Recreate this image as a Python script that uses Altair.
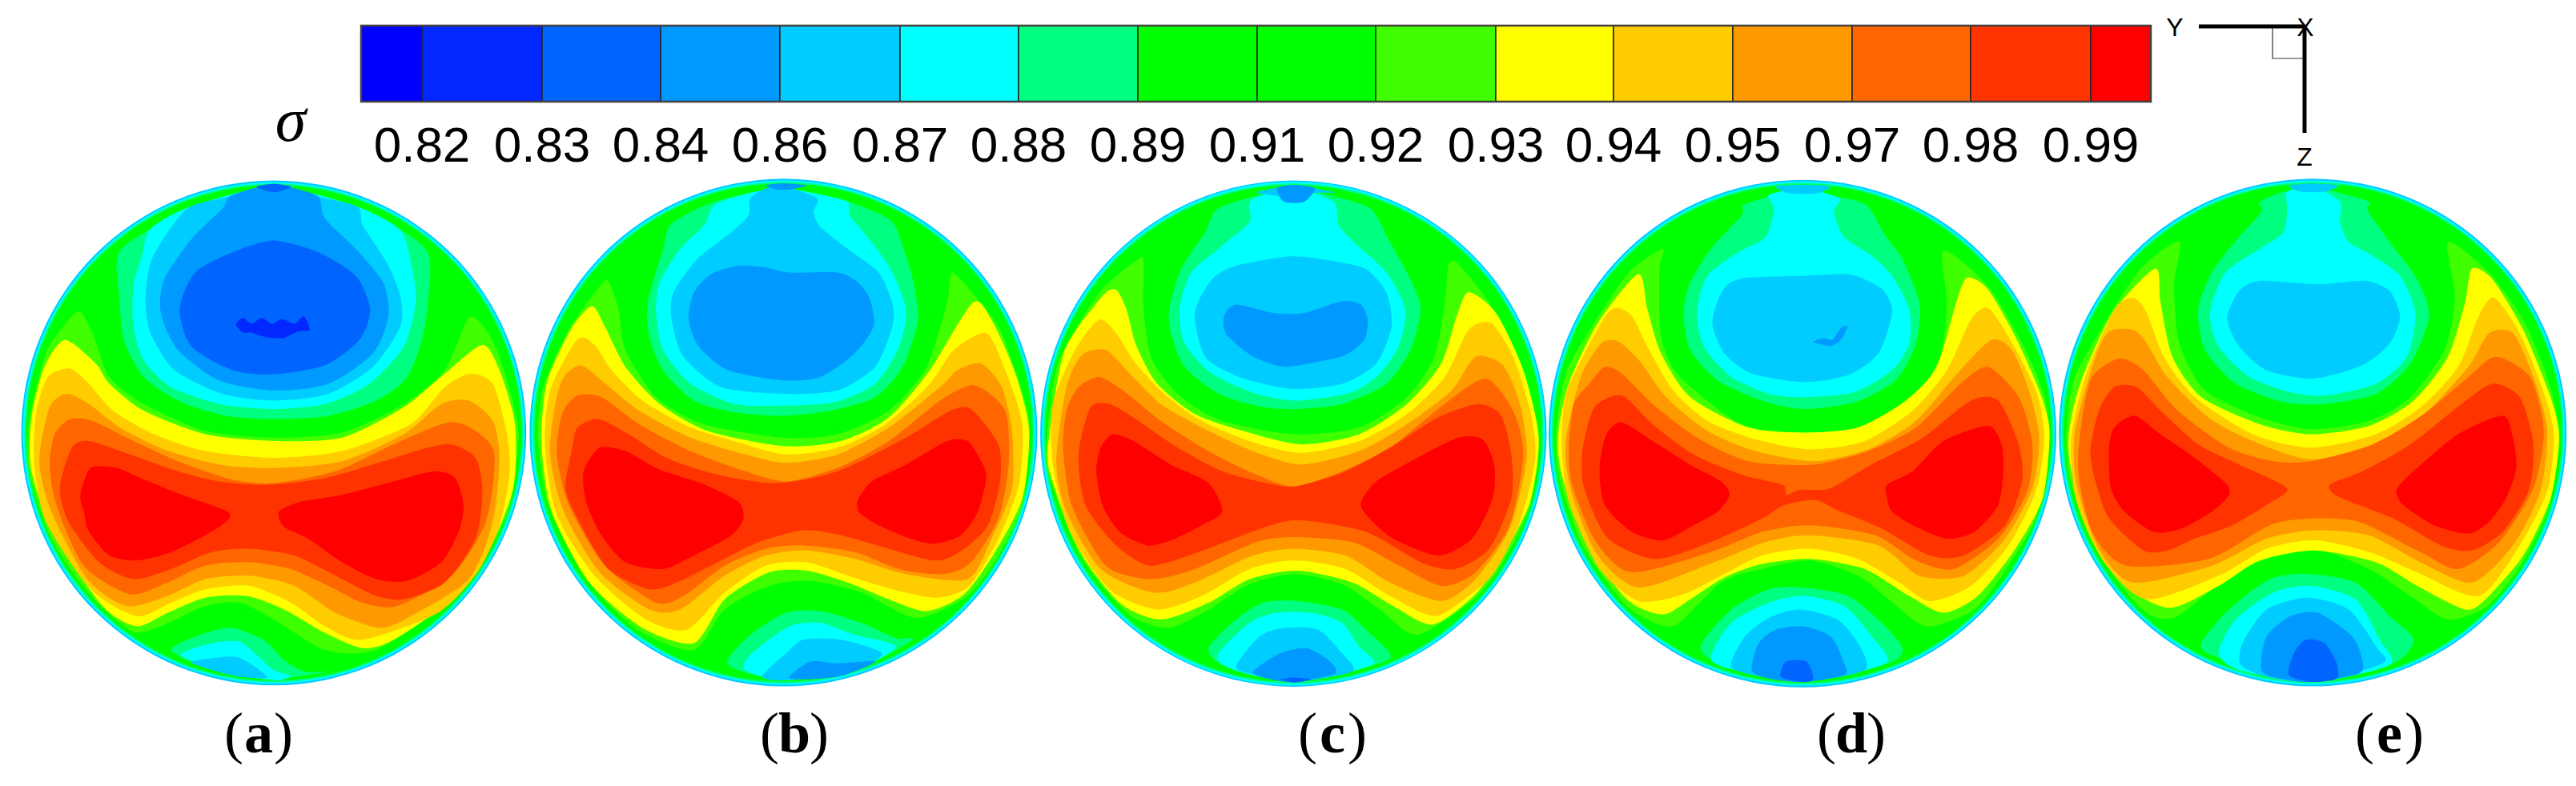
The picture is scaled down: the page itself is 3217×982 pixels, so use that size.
import altair as alt
import pandas as pd

COLORS = ["#0000ff","#0028ff","#0064ff","#0099ff","#00ccff","#00ffff","#00ff80","#00ff00",
          "#00ff00","#40ff00","#ffff00","#ffcc00","#ff9900","#ff6600","#ff3300","#ff0000"]
EDGES = [451,527,677,825,974,1124,1272,1421,1570,1718,1868,2015,2164,2313,2461,2611,2686]
TICKS = ["0.82","0.83","0.84","0.86","0.87","0.88","0.89","0.91","0.92","0.93","0.94","0.95","0.97","0.98","0.99"]
CAPTIONS = ["a","b","c","d","e"]
CAPTION_X = [323,992,1664,2312,2984]
OFFSET_X = [0,640,1270,1910,2540]
CENTERS = [(800,786,738),(792,785,742),(808,788,740),(798,788,742),(815,785,742)]
RIMS = [(0,4),(5,5),(9,6),(14,7)]

A = [
(6,[(345,255),(350,400),(362,510),(420,620),(530,695),(660,735),(800,745),(960,735),(1100,690),(1190,620),(1240,480),(1255,265),(1175,185),(1040,115),(800,55),(560,115),(440,180)]),
(5,[(440,180),(415,260),(390,350),(390,470),(420,570),(500,650),(640,700),(800,715),(950,700),(1080,640),(1180,530),(1215,400),(1205,300),(1170,185),(1045,115),(800,55),(555,115)]),
(4,[(555,115),(490,190),(440,280),(425,390),(440,490),(510,600),(650,670),(800,690),(960,670),(1090,590),(1170,470),(1170,380),(1130,280),(1060,170),(1045,115),(930,85),(800,55),(670,85)]),
(3,[(670,85),(650,120),(560,210),(480,330),(470,430),(520,540),(640,630),(800,660),(960,640),(1090,550),(1135,440),(1120,340),(1040,240),(950,150),(930,85),(860,60),(800,50),(740,60)]),
(2,[(800,215),(680,250),(570,310),(525,420),(560,530),(680,600),(800,612),(950,585),(1050,510),(1082,420),(1040,320),(930,250)]),
(2,[(750,55),(800,72),(850,55),(800,47)]),
(1,[(690,465),(710,445),(735,462),(765,445),(795,462),(825,448),(860,462),(888,440),(905,480),(870,485),(825,505),(770,500),(735,488),(710,488)]),
(6,[(500,1430),(600,1380),(680,1365),(770,1400),(830,1460),(890,1495),(960,1495),(800,1515),(620,1490)]),
(5,[(530,1445),(620,1410),(700,1405),(750,1445),(800,1490),(850,1508),(800,1520),(650,1495)]),
(4,[(560,1465),(680,1450),(730,1470),(780,1512),(700,1510),(620,1490)]),
(9,[(230,425),(270,490),(320,620),(420,700),(600,780),(800,800),(1000,785),(1180,700),(1300,600),(1370,445),(1420,480),(1460,560),(1500,700),(1515,800),(1490,1000),(1415,1160),(1310,1290),(1100,1430),(950,1430),(800,1340),(700,1290),(600,1300),(470,1360),(385,1375),(265,1270),(150,1100),(85,900),(85,750),(130,560),(170,490)]),
(10,[(190,510),(280,580),(320,640),(420,720),(600,790),(800,810),(1000,800),(1180,710),(1300,610),(1410,525),(1460,600),(1505,760),(1500,950),(1430,1130),(1320,1280),(1150,1400),(1060,1425),(950,1380),(830,1310),(720,1270),(600,1275),(490,1320),(400,1360),(300,1300),(160,1090),(92,900),(92,740),(130,590)]),
(11,[(140,620),(205,595),(260,640),(330,720),(450,790),(600,840),(800,860),(1000,840),(1200,760),(1300,650),(1375,610),(1440,640),(1480,780),(1490,900),(1460,1060),(1395,1200),(1280,1320),(1060,1400),(950,1360),(850,1290),(730,1240),(600,1250),(500,1290),(400,1330),(265,1250),(135,1050),(100,880),(105,730)]),
(12,[(145,710),(195,670),(260,700),(350,770),(480,835),(640,880),(800,890),(1000,870),(1180,790),(1290,700),(1370,690),(1440,750),(1460,860),(1440,1050),(1370,1220),(1200,1330),(1110,1365),(980,1320),(860,1240),(730,1210),(600,1220),(490,1270),(370,1300),(255,1220),(150,1020),(115,870)]),
(13,[(160,790),(205,745),(270,750),(370,800),(520,870),(680,925),(800,935),(980,900),(1150,820),(1310,755),(1390,780),(1445,850),(1420,1050),(1320,1210),(1160,1300),(1060,1290),(960,1240),(850,1190),(730,1170),(600,1180),(490,1230),(380,1265),(245,1180),(165,1000),(145,880)]),
(14,[(210,830),(260,810),(380,850),(520,900),(640,930),(780,940),(950,920),(1120,870),(1250,830),(1320,820),(1390,860),(1410,960),(1390,1100),(1300,1230),(1180,1280),(1100,1270),(1000,1220),(860,1150),(730,1130),(620,1140),(500,1190),(390,1220),(290,1170),(200,1050),(175,950)]),
(15,[(265,890),(340,890),(400,915),(520,965),(665,1020),(660,1050),(600,1090),(500,1140),(400,1165),(320,1150),(260,1080),(245,1020),(235,970)]),
(15,[(815,1020),(880,990),(1000,970),(1150,930),(1270,900),(1330,920),(1355,1000),(1340,1080),(1290,1170),(1190,1225),(1100,1220),(1000,1170),(900,1100),(830,1065)]),
]
B = [
(6,[(465,165),(440,240),(395,400),(400,500),(440,600),(530,690),(650,725),(790,735),(930,720),(1060,680),(1140,590),(1185,450),(1170,330),(1140,230),(1105,155),(980,100),(790,60),(590,100)]),
(5,[(590,110),(560,170),(490,240),(430,340),(420,430),(440,540),(520,640),(650,700),(790,705),(940,695),(1060,640),(1130,530),(1150,420),(1110,310),(1050,220),(985,140),(980,100),(880,75),(790,60),(690,75)]),
(4,[(695,90),(690,140),(640,190),(540,270),(470,370),(465,450),(500,560),(610,650),(790,670),(950,660),(1060,590),(1110,470),(1110,400),(1070,310),(980,240),(900,175),(880,130),(890,90),(800,55),(740,60)]),
(3,[(660,290),(580,315),(530,370),(515,450),(545,530),(630,600),(790,630),(900,620),(1000,550),(1055,470),(1045,390),(1010,340),(950,310),(810,310),(740,295)]),
(3,[(740,52),(790,65),(860,52),(790,45)]),
(6,[(630,1475),(690,1390),(800,1320),(900,1315),(1020,1350),(1120,1395),(1170,1400),(1020,1480),(800,1520)]),
(5,[(680,1490),(700,1440),(810,1360),(900,1350),(1000,1385),(1120,1420),(1010,1485),(800,1520)]),
(4,[(730,1510),(800,1440),(850,1400),(960,1400),(1080,1440),(1000,1490),(800,1520)]),
(3,[(810,1515),(870,1465),(950,1470),(1060,1465),(950,1510)]),
(9,[(265,340),(285,345),(310,420),(330,540),(420,680),(560,760),(790,800),(950,790),(1100,720),(1210,590),(1270,400),(1285,310),(1360,390),(1430,490),(1500,700),(1510,800),(1490,1000),(1420,1150),(1330,1270),(1180,1335),(1020,1260),(870,1225),(750,1240),(620,1310),(530,1430),(365,1370),(215,1220),(105,1000),(75,800),(90,650),(170,470)]),
(10,[(232,410),(270,470),(330,590),(430,700),(570,780),(790,825),(960,810),(1100,740),(1220,600),(1345,400),(1400,450),(1470,610),(1510,780),(1490,980),(1410,1140),(1320,1265),(1210,1315),(1100,1280),(980,1230),(860,1195),(750,1200),(620,1280),(530,1410),(380,1365),(225,1230),(115,1020),(85,820),(100,640),(170,480)]),
(11,[(190,508),(240,525),(290,600),(380,690),(520,770),(680,820),(800,850),(950,830),(1090,760),(1220,640),(1290,540),(1385,490),(1440,600),(1490,760),(1480,940),(1420,1100),(1335,1240),(1240,1275),(1110,1250),(980,1210),(860,1170),(740,1180),(620,1260),(510,1370),(390,1340),(240,1210),(130,1030),(95,830),(110,660)]),
(12,[(150,620),(200,585),(260,630),(370,720),(520,800),(680,850),(800,875),(950,850),(1100,770),(1250,650),(1300,600),(1370,580),(1430,650),(1460,780),(1460,950),(1400,1100),(1330,1220),(1150,1205),(1000,1160),(860,1135),(740,1150),(620,1210),(490,1310),(400,1310),(255,1200),(150,1020),(110,850),(125,700)]),
(13,[(145,730),(190,675),(260,680),(370,760),(520,840),(680,900),(800,930),(950,890),(1100,810),(1250,690),(1350,645),(1440,720),(1450,880),(1420,1040),(1340,1170),(1260,1205),(1130,1190),(1000,1140),(850,1120),(740,1130),(620,1180),(500,1270),(420,1290),(270,1180),(165,1000),(130,850)]),
(14,[(190,770),(250,745),(340,790),(450,860),(600,910),(770,935),(950,900),(1150,800),(1280,720),(1340,715),(1420,820),(1425,930),(1390,1060),(1320,1130),(1240,1165),(1100,1130),(960,1090),(850,1075),(720,1110),(600,1170),(480,1230),(400,1250),(280,1190),(190,1040),(155,950),(175,830)]),
(15,[(255,830),(330,840),(430,895),(550,935),(660,990),(675,1040),(640,1090),(530,1150),(440,1190),(330,1170),(260,1090),(215,990),(208,900)]),
(15,[(1010,985),(1050,930),(1150,880),(1270,810),(1330,810),(1370,870),(1385,920),(1360,1020),(1310,1090),(1230,1115),(1150,1095),(1060,1055),(1012,1020)]),
]
C = [
(6,[(585,122),(550,190),(480,300),(445,420),(450,490),(490,590),(590,670),(720,710),(820,715),(950,700),(1080,640),(1150,540),(1180,420),(1150,330),(1090,220),(1035,122),(930,85),(808,60),(690,85)]),
(5,[(685,95),(680,160),(600,230),(510,310),(475,420),(490,520),(570,610),(700,670),(820,690),(980,665),(1060,610),(1115,530),(1135,420),(1080,310),(990,225),(940,170),(925,100),(808,60)]),
(4,[(700,72),(770,85),(785,100),(835,100),(860,75),(930,72),(808,52)]),
(3,[(760,60),(780,100),(840,100),(870,60),(808,50)]),
(4,[(800,262),(640,290),(570,330),(520,430),(550,560),(650,620),(800,655),(950,640),(1050,580),(1095,470),(1080,370),(1020,300),(920,275)]),
(3,[(640,405),(750,430),(840,430),(950,395),(1005,405),(1025,450),(1015,510),(960,555),(880,575),(780,590),(700,565),(650,530),(610,490),(605,440)]),
(6,[(560,1425),(640,1340),(720,1290),(820,1285),(950,1310),(1020,1370),(1090,1440),(1060,1470),(808,1525),(610,1480)]),
(5,[(585,1450),(680,1350),(760,1320),(860,1320),(950,1350),(1000,1420),(1045,1470),(950,1500),(808,1525),(650,1495)]),
(4,[(640,1480),(710,1390),(780,1365),(880,1370),(950,1440),(980,1495),(808,1525),(700,1505)]),
(3,[(690,1495),(770,1440),(845,1425),(910,1460),(930,1500),(808,1525),(730,1515)]),
(2,[(770,1518),(810,1512),(860,1518),(810,1527)]),
(9,[(355,270),(370,280),(370,420),(395,570),(480,680),(600,750),(810,790),(1000,770),(1140,680),(1220,560),(1250,400),(1262,285),(1290,285),(1380,400),(1460,560),(1520,780),(1500,1000),(1420,1170),(1335,1280),(1170,1385),(1060,1310),(950,1235),(810,1205),(680,1235),(560,1310),(440,1365),(320,1320),(185,1150),(90,900),(88,800),(120,580),(240,370)]),
(10,[(290,362),(320,420),(350,530),(410,640),(520,730),(660,780),(830,820),(1000,790),(1140,700),(1240,580),(1285,440),(1320,368),(1400,430),(1480,600),(1525,800),(1500,990),(1420,1150),(1340,1265),(1215,1355),(1100,1300),(980,1230),(820,1195),(680,1220),(560,1290),(420,1340),(300,1290),(180,1130),(95,900),(95,790),(140,540),(250,380)]),
(11,[(240,450),(290,490),(340,570),(420,660),(530,745),(680,810),(830,845),(1000,810),(1140,730),(1250,620),(1320,480),(1385,460),(1450,560),(1500,720),(1515,860),(1470,1050),(1395,1200),(1320,1270),(1220,1330),(1090,1270),(960,1190),(810,1165),(680,1190),(540,1270),(410,1310),(270,1250),(155,1080),(105,880),(105,700),(170,540)]),
(12,[(190,555),(260,540),(330,610),(420,700),(540,770),(690,840),(830,880),(1000,840),(1140,760),(1270,660),(1340,560),(1420,585),(1470,700),(1490,860),(1440,1070),(1340,1220),(1240,1285),(1090,1230),(960,1150),(810,1130),(690,1150),(520,1230),(400,1260),(245,1190),(145,1020),(115,870),(145,650)]),
(13,[(145,720),(180,650),(240,620),(310,660),(420,750),(560,840),(700,910),(810,945),(950,900),(1090,830),(1250,700),(1370,625),(1450,720),(1480,850),(1440,1060),(1340,1200),(1240,1240),(1100,1170),(980,1110),(810,1095),(700,1110),(520,1190),(390,1220),(260,1180),(160,1000),(135,830)]),
(14,[(215,710),(270,700),(340,740),(470,830),(600,900),(730,935),(810,945),(950,905),(1090,830),(1230,740),(1350,700),(1415,735),(1445,850),(1445,980),(1380,1130),(1280,1190),(1180,1170),(1020,1080),(820,1045),(700,1075),(530,1140),(390,1180),(290,1120),(200,1000),(180,850)]),
(15,[(280,790),(340,810),(450,880),(560,935),(600,1020),(540,1060),(450,1105),(380,1120),(300,1080),(250,1000),(232,900),(245,830)]),
(15,[(1005,995),(1050,930),(1170,860),(1290,800),(1360,805),(1395,880),(1390,980),(1330,1100),(1230,1150),(1100,1100),(1030,1040)]),
]
D = [
(6,[(625,110),(620,140),(530,240),(470,340),(450,430),(470,540),(550,630),(680,690),(800,715),(950,695),(1070,630),(1130,520),(1140,400),(1090,270),(1040,200),(985,110),(900,85),(800,65),(700,85)]),
(5,[(715,120),(690,205),(610,250),(520,320),(490,430),(510,530),(590,620),(700,670),(800,680),(950,665),(1060,600),(1110,520),(1110,420),(1060,320),(1000,260),(920,205),(890,130),(905,90),(800,60),(700,80)]),
(4,[(640,325),(580,345),(550,395),(535,465),(570,550),(650,610),(800,635),(930,615),(1020,550),(1060,430),(1040,370),(1000,340),(930,315),(800,320)]),
(3,[(830,515),(860,505),(885,510),(910,475),(930,470),(910,510),(880,528),(850,522)]),
(4,[(720,55),(760,75),(840,75),(880,55),(800,50)]),
(6,[(500,1420),(590,1310),(700,1250),(800,1245),(930,1270),(1030,1350),(1090,1425),(1050,1470),(800,1525),(560,1470)]),
(5,[(530,1455),(590,1350),(700,1290),(800,1270),(920,1300),(1000,1390),(1040,1470),(800,1525),(600,1490)]),
(4,[(590,1480),(630,1390),(700,1335),(790,1310),(900,1340),(960,1410),(980,1490),(800,1525),(680,1510)]),
(3,[(650,1490),(670,1410),(720,1370),(800,1360),(880,1390),(920,1470),(920,1505),(800,1525),(700,1515)]),
(2,[(735,1510),(750,1465),(810,1465),(830,1515),(800,1526)]),
(9,[(390,240),(380,300),(385,500),(440,620),(620,760),(800,785),(1000,770),(1120,690),(1200,560),(1220,400),(1210,245),(1340,350),(1450,540),(1510,700),(1515,850),(1480,1040),(1400,1180),(1300,1310),(1160,1360),(1050,1280),(960,1210),(820,1165),(680,1190),(560,1230),(430,1355),(355,1345),(275,1290),(155,1120),(88,920),(78,780),(110,600),(220,410),(300,300)]),
(10,[(318,315),(345,420),(385,550),(470,680),(640,770),(800,785),(960,770),(1100,690),(1190,590),(1250,390),(1280,325),(1340,360),(1420,500),(1490,660),(1520,780),(1500,980),(1420,1130),(1310,1270),(1210,1320),(1110,1270),(980,1190),(820,1160),(680,1175),(570,1215),(470,1280),(390,1325),(285,1280),(165,1110),(92,900),(85,780),(115,640),(200,460)]),
(11,[(215,450),(255,415),(300,440),(350,540),(420,660),(520,750),(660,805),(820,835),(980,810),(1120,720),(1220,600),(1290,450),(1340,415),(1400,500),(1480,660),(1505,800),(1480,960),(1400,1120),(1290,1240),(1170,1285),(1080,1230),(960,1160),(820,1130),(680,1150),(560,1210),(450,1265),(320,1285),(205,1190),(115,990),(95,820),(110,660)]),
(12,[(150,620),(210,520),(260,515),(320,570),(400,680),(520,780),(660,840),(830,870),(990,835),(1130,750),(1250,610),(1350,510),(1410,540),(1460,660),(1490,800),(1470,950),(1390,1100),(1270,1210),(1140,1210),(1020,1120),(820,1090),(690,1110),(540,1170),(320,1245),(200,1150),(125,970),(105,820)]),
(13,[(130,700),(175,640),(220,590),(270,610),(360,700),(490,800),(640,870),(830,880),(990,840),(1130,770),(1260,640),(1340,590),(1430,680),(1470,820),(1455,960),(1370,1100),(1240,1190),(1130,1165),(1010,1090),(820,1060),(680,1080),(530,1140),(300,1200),(195,1110),(125,940),(115,830)]),
(14,[(155,840),(190,710),(270,675),(360,760),(480,850),(620,910),(740,940),(750,970),(790,955),(830,955),(880,950),(1000,880),(1150,800),(1290,690),(1370,690),(1430,820),(1440,930),(1390,1060),(1270,1150),(1170,1150),(1030,1070),(900,1015),(835,985),(745,1000),(680,1040),(530,1110),(370,1160),(230,1100),(160,950)]),
(15,[(270,755),(360,810),(470,880),(560,930),(585,970),(550,1020),(480,1060),(390,1105),(300,1080),(220,1000),(205,890),(225,790)]),
(15,[(1045,940),(1120,900),(1210,810),(1340,765),(1380,820),(1385,900),(1370,1000),(1300,1080),(1220,1100),(1120,1060),(1060,1020),(1045,980)]),
]
E = [
(6,[(665,130),(590,215),(520,310),(480,420),(500,540),(590,640),(730,695),(850,700),(1000,670),(1100,580),(1155,440),(1120,330),(1040,220),(975,125),(980,100),(880,70),(815,60),(730,70),(660,100)]),
(5,[(740,115),(730,190),(660,240),(560,310),(515,430),(540,530),(630,620),(750,665),(850,675),(1000,640),(1090,560),(1115,430),(1070,320),(990,260),(920,220),(895,160),(895,100),(815,55),(740,70)]),
(4,[(660,335),(600,365),(565,445),(600,530),(680,600),(815,625),(960,585),(1040,520),(1070,440),(1040,365),(970,335),(830,345)]),
(4,[(745,52),(780,70),(850,70),(890,52),(815,46)]),
(6,[(490,1410),(570,1310),(690,1220),(800,1205),(940,1230),(1040,1330),(1110,1400),(1050,1470),(815,1525),(530,1450)]),
(5,[(540,1440),(590,1340),(700,1260),(810,1240),(940,1280),(1010,1400),(1040,1475),(815,1525),(600,1490)]),
(4,[(605,1475),(610,1410),(680,1310),(800,1275),(920,1310),(1000,1420),(1020,1470),(815,1525),(680,1510)]),
(3,[(665,1490),(680,1390),(750,1330),(830,1320),(930,1390),(960,1460),(950,1500),(815,1525),(720,1515)]),
(2,[(745,1505),(760,1440),(795,1400),(850,1410),(885,1470),(885,1515),(815,1525)]),
(9,[(425,218),(410,350),(425,520),(500,660),(660,740),(810,775),(980,750),(1100,680),(1200,540),(1230,380),(1210,220),(1330,310),(1430,450),(1500,620),(1535,790),(1507,1000),(1428,1170),(1325,1300),(1210,1340),(1100,1270),(980,1190),(820,1130),(680,1160),(560,1220),(420,1330),(345,1330),(270,1260),(165,1100),(105,920),(95,780),(120,620),(230,420),(320,290)]),
(10,[(355,298),(370,400),(405,560),(490,680),(660,760),(810,790),(980,765),(1110,690),(1210,560),(1260,400),(1280,298),(1340,330),(1430,480),(1510,680),(1535,800),(1510,980),(1430,1150),(1320,1280),(1260,1310),(1120,1240),(1000,1170),(820,1135),(660,1165),(540,1240),(400,1305),(285,1250),(170,1090),(110,900),(102,790),(135,640),(230,430)]),
(11,[(235,420),(290,385),(330,430),(380,560),(470,680),(640,790),(810,830),(1000,790),(1130,710),(1240,590),(1300,440),(1345,385),(1420,490),(1495,680),(1520,800),(1500,960),(1420,1120),(1300,1270),(1120,1200),(980,1140),(820,1105),(680,1130),(540,1210),(330,1280),(205,1170),(125,990),(108,810),(150,620)]),
(12,[(180,560),(220,485),(290,480),(330,520),(390,620),(510,740),(640,810),(810,865),(990,820),(1140,730),(1270,590),(1330,490),(1400,490),(1460,620),(1500,780),(1480,960),(1400,1120),(1280,1230),(1130,1170),(980,1090),(820,1075),(680,1100),(520,1180),(290,1230),(190,1130),(125,940),(120,780)]),
(13,[(140,750),(170,620),(250,565),(320,600),(420,720),(570,830),(700,870),(810,870),(990,820),(1140,730),(1270,620),(1350,560),(1450,620),(1490,780),(1460,950),(1360,1110),(1240,1190),(1130,1140),(950,1050),(810,1040),(690,1060),(510,1160),(270,1180),(170,1080),(130,900)]),
(14,[(165,840),(190,720),(235,650),(300,650),(370,720),(480,820),(600,880),(740,950),(680,1000),(580,1060),(470,1100),(390,1135),(320,1135),(220,1040),(180,930)]),
(14,[(865,940),(960,900),(1100,820),(1250,700),(1340,640),(1420,680),(1460,820),(1445,960),(1370,1080),(1280,1135),(1190,1120),(1050,1040),(890,975)]),
(15,[(295,735),(370,790),(470,860),(560,935),(570,970),(520,1020),(430,1070),(350,1080),(265,1020),(225,950),(220,830),(235,770)]),
(15,[(1060,955),(1120,890),(1240,790),(1370,735),(1400,800),(1410,890),(1380,980),(1330,1050),(1270,1085),(1170,1060),(1080,1000)]),
]
PANELS = [A,B,C,D,E]

# crop-to-picture scale of the readings
SX, SY = 1568/670, 1568/660
Y0 = 210
W, H = 3201, 966
xs = alt.Scale(domain=[8,8+W], nice=False, zero=False)
ys = alt.Scale(domain=[8+H,8], nice=False, zero=False)
lev = alt.Scale(domain=list(range(16)), range=COLORS)

def X(f): return alt.X(f, type="quantitative", scale=xs, axis=None)
def Y(f): return alt.Y(f, type="quantitative", scale=ys, axis=None)

rows=[]; gid=0
for p,polys in enumerate(PANELS):
    for level,pts in polys:
        gid+=1
        for i,(zx,zy) in enumerate(pts):
            rows.append({"poly":gid,"i":i,"level":level,"x":OFFSET_X[p]+zx/SX,"y":Y0+zy/SY})
poly_df=pd.DataFrame(rows)

discs=[]
for p,(cx,cy,r) in enumerate(CENTERS):
    for inset,level in RIMS:
        rad=(r-inset)/SX
        discs.append({"o":len(discs),"x":OFFSET_X[p]+cx/SX,"y":Y0+cy/SY,"level":level,"size":4*rad*rad})
disc_df=pd.DataFrame(discs)

disc_layer=alt.Chart(disc_df).mark_circle(opacity=1).encode(
    x=X("x"),y=Y("y"),
    size=alt.Size("size:Q",scale=None,legend=None),
    color=alt.Color("level:N",scale=lev,legend=None),
    order=alt.Order("o:Q"))

poly_layer=alt.Chart(poly_df).mark_line(interpolate="cardinal-closed",tension=0.25,filled=True,opacity=1).encode(
    x=X("x"),y=Y("y"),
    color=alt.Color("level:N",scale=lev,legend=None),
    detail="poly:N",
    order=alt.Order("i:Q"))

bar_df=pd.DataFrame({"x":EDGES[:-1],"x2":EDGES[1:],"level":list(range(16)),"y":[32]*16,"y2":[127]*16})
bar=alt.Chart(bar_df).mark_rect(stroke="#222222",strokeWidth=1.5).encode(
    x=X("x"),x2="x2",y=Y("y"),y2="y2",
    color=alt.Color("level:N",scale=lev,legend=None))
frame=alt.Chart(pd.DataFrame({"x":[EDGES[0]],"x2":[EDGES[-1]],"y":[32],"y2":[127]})).mark_rect(
    fillOpacity=0,stroke="#443f3f",strokeWidth=2.5).encode(x=X("x"),x2="x2",y=Y("y"),y2="y2")

tick_df=pd.DataFrame({"x":EDGES[1:-1],"y":[202]*15,"t":TICKS})
ticks=alt.Chart(tick_df).mark_text(font="Liberation Sans",fontSize=62,baseline="alphabetic",align="center",color="#000").encode(
    x=X("x"),y=Y("y"),text="t:N")
sigma=alt.Chart(pd.DataFrame({"x":[363],"y":[176],"t":["σ"]})).mark_text(
    font="Liberation Serif",fontStyle="italic",fontSize=78,baseline="alphabetic",align="center",color="#000").encode(
    x=X("x"),y=Y("y"),text="t:N")

cap_df=pd.DataFrame({"x":CAPTION_X,"y":[940]*5,"t":CAPTIONS})
cap_b=alt.Chart(cap_df).mark_text(font="Liberation Serif",fontWeight="bold",fontSize=72,baseline="alphabetic",align="center",color="#000").encode(
    x=X("x"),y=Y("y"),text="t:N")
par_df=pd.DataFrame({"x":[c-31 for c in CAPTION_X]+[c+31 for c in CAPTION_X],"y":[940]*10,"t":["("]*5+[")"]*5})
cap_p=alt.Chart(par_df).mark_text(font="Liberation Serif",fontSize=72,baseline="alphabetic",align="center",color="#000").encode(
    x=X("x"),y=Y("y"),text="t:N")

triad_text=alt.Chart(pd.DataFrame({"x":[2716,2879,2878],"y":[45,45,207],"t":["Y","X","Z"]})).mark_text(
    font="Liberation Sans",fontSize=32,baseline="alphabetic",align="center",color="#000").encode(x=X("x"),y=Y("y"),text="t:N")
h_axis=alt.Chart(pd.DataFrame({"x":[2746],"x2":[2879],"y":[33]})).mark_rule(strokeWidth=5,color="#000").encode(x=X("x"),x2="x2",y=Y("y"))
v_axis=alt.Chart(pd.DataFrame({"x":[2878],"y":[33],"y2":[166]})).mark_rule(strokeWidth=5,color="#000").encode(x=X("x"),y=Y("y"),y2="y2")
box=alt.Chart(pd.DataFrame({"x":[2838],"x2":[2878],"y":[33],"y2":[73]})).mark_rect(fillOpacity=0,stroke="#333",strokeWidth=1.2).encode(
    x=X("x"),x2="x2",y=Y("y"),y2="y2")

chart=alt.layer(disc_layer,poly_layer,bar,frame,ticks,sigma,cap_p,cap_b,box,h_axis,v_axis,triad_text).properties(
    width=W,height=H,padding=0,background="white",autosize=alt.AutoSizeParams(type="none")
).configure_view(stroke=None)
chart.save("out.html",embed_options={"renderer":"svg","actions":False})
